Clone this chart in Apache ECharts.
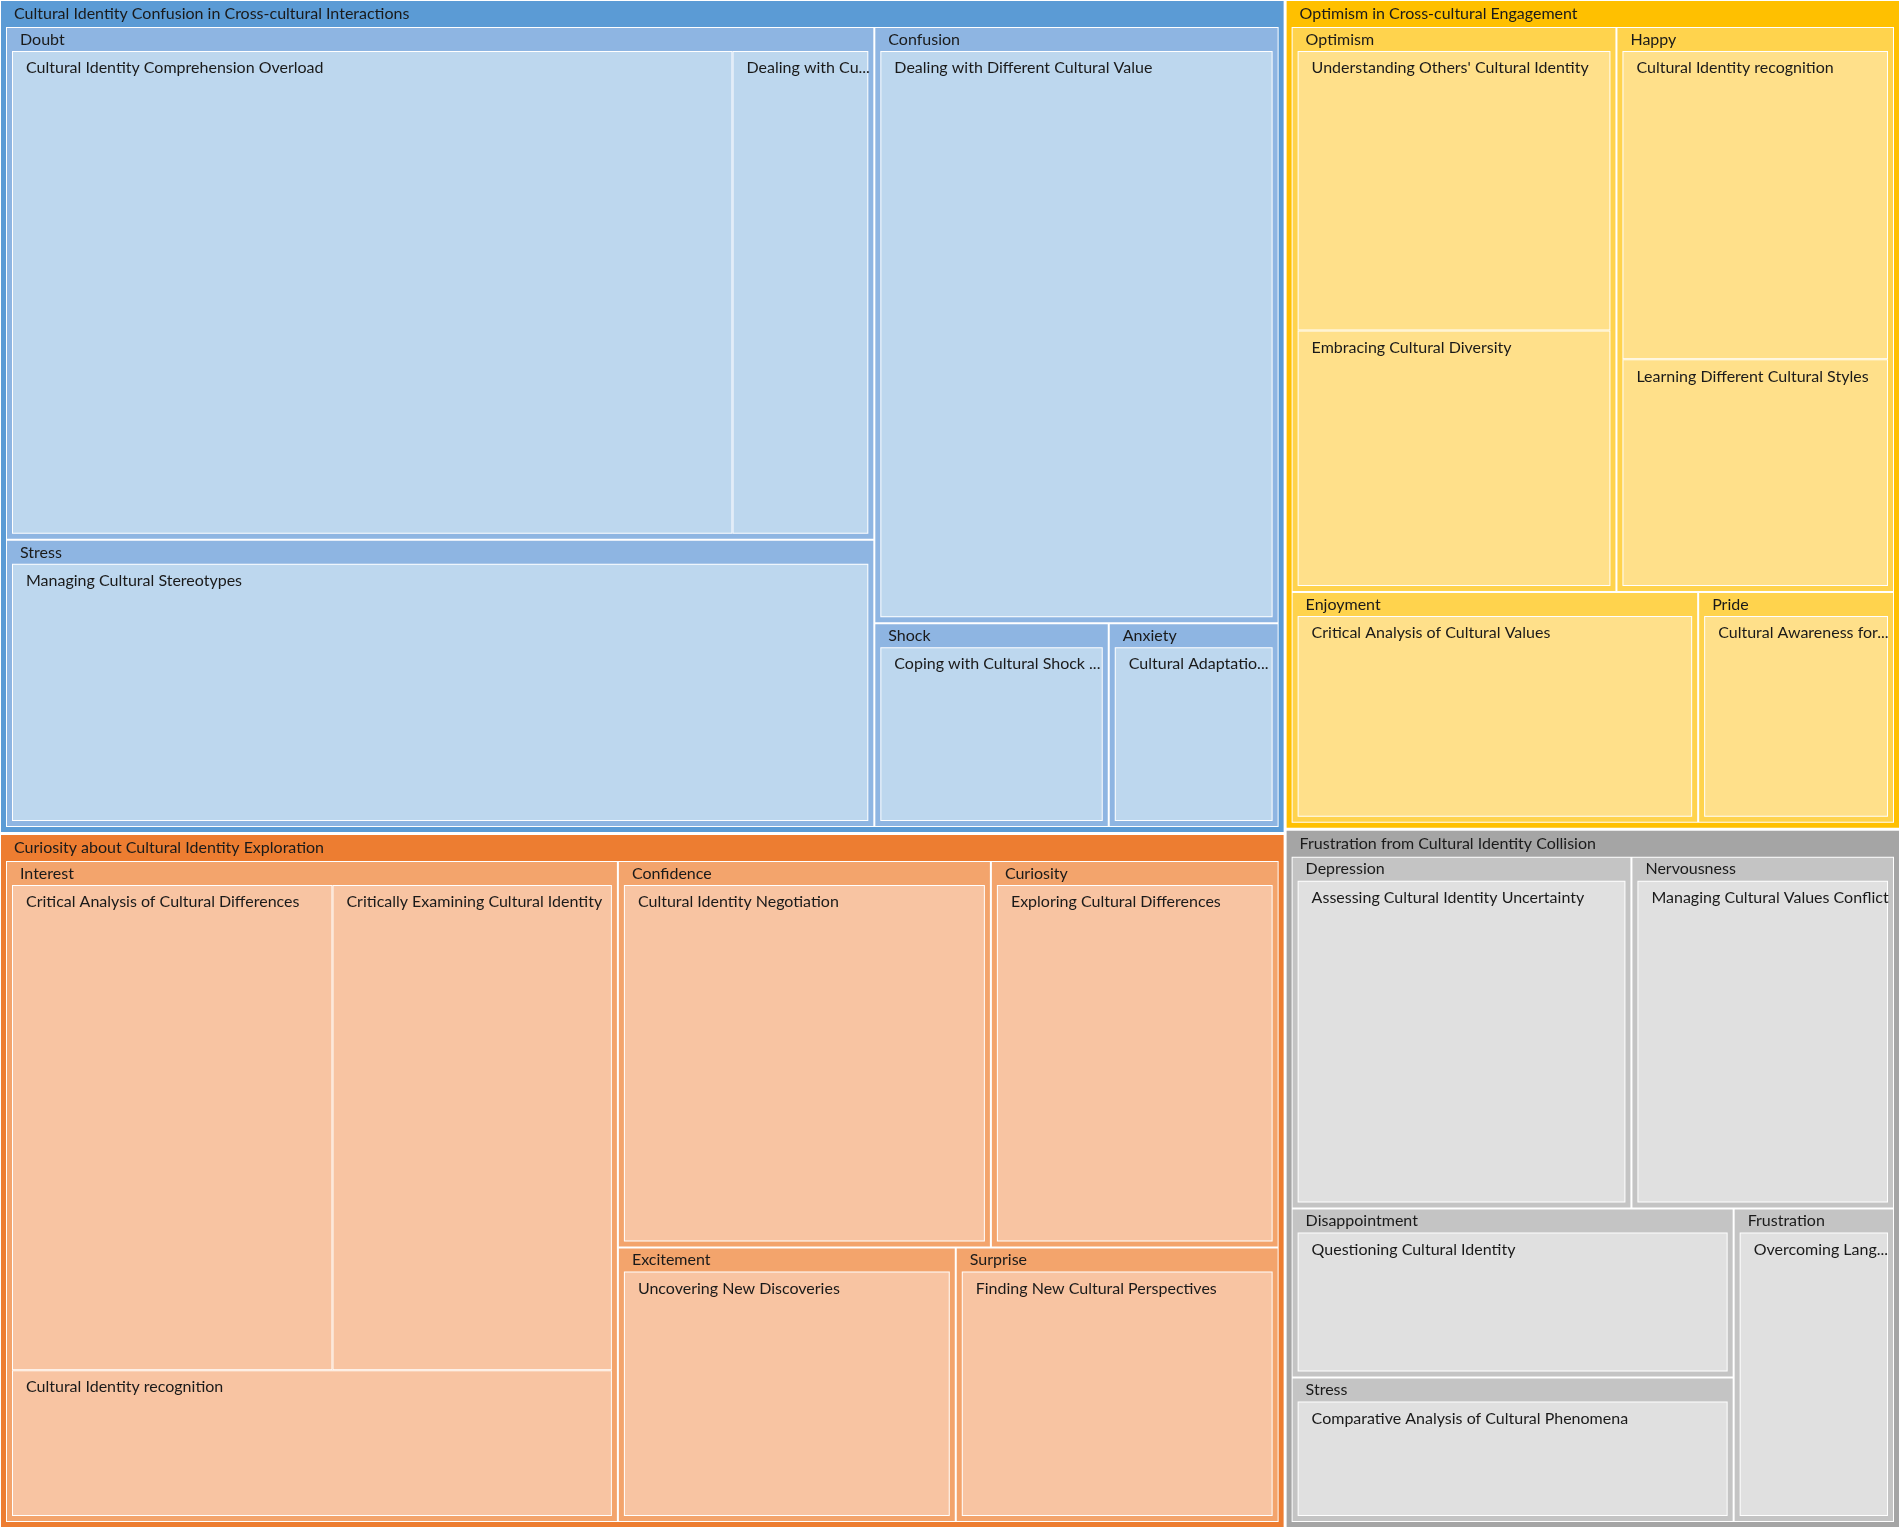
<!DOCTYPE html>
<html>
<head>
<meta charset="utf-8">
<title>Cultural identity treemap</title>
<script src="https://cdn.jsdelivr.net/npm/echarts@6.0.0/dist/echarts.min.js"></script>
<style>
  html, body { margin: 0; padding: 0; background: #fff; }
  #main { width: 1902px; height: 1532px; }
</style>
</head>
<body>
<div id="main"></div>
<script>
// top level groups
const groupNames = [
  'Cultural Identity Confusion in Cross-cultural Interactions',
  'Curiosity about Cultural Identity Exploration',
  'Optimism in Cross-cultural Engagement',
  'Frustration from Cultural Identity Collision'
];

const confusionSubs = ['Doubt', 'Stress', 'Confusion', 'Shock', 'Anxiety'];
const confusionLeaves = [
  ['Cultural Identity Comprehension Overload', 'Dealing with Cultural Conflicts'],
  ['Managing Cultural Stereotypes'],
  ['Dealing with Different Cultural Value'],
  ['Coping with Cultural Shock in Daily Life'],
  ['Cultural Adaptation Pressure']
];
const confusionValues = [[54.1, 10.2], [36.0], [34.8], [6.9], [5.0]];

const curiositySubs = ['Interest', 'Confidence', 'Curiosity', 'Excitement', 'Surprise'];
const curiosityLeaves = [
  ['Critical Analysis of Cultural Differences', 'Critically Examining Cultural Identity', 'Cultural Identity recognition'],
  ['Cultural Identity Negotiation'],
  ['Exploring Cultural Differences'],
  ['Uncovering New Discoveries'],
  ['Finding New Cultural Perspectives']
];
const curiosityValues = [[24.2, 21.1, 13.6], [21.0], [16.2], [13.5], [12.9]];

const optimismSubs = ['Optimism', 'Happy', 'Enjoyment', 'Pride'];
const optimismLeaves = [
  ["Understanding Others' Cultural Identity", 'Embracing Cultural Diversity'],
  ['Cultural Identity recognition', 'Learning Different Cultural Styles'],
  ['Critical Analysis of Cultural Values'],
  ['Cultural Awareness for Global Citizenship']
];
const optimismValues = [[14.0, 12.8], [13.2, 9.7], [13.7], [6.6]];

const frustrationSubs = ['Depression', 'Nervousness', 'Disappointment', 'Stress', 'Frustration'];
const frustrationLeaves = [
  ['Assessing Cultural Identity Uncertainty'],
  ['Managing Cultural Values Conflict'],
  ['Questioning Cultural Identity'],
  ['Comparative Analysis of Cultural Phenomena'],
  ['Overcoming Language Barriers']
];
const frustrationValues = [[17.6], [13.6], [11.0], [9.4], [7.4]];

// colours per group: outer / sub group / leaf
const groupColors = ['#5B9BD5', '#ED7D31', '#FFC000', '#A5A5A5'];
const subColors = ['#8EB5E2', '#F3A46C', '#FFD34D', '#C4C4C4'];
const leafColors = ['#BDD7EE', '#F8C4A2', '#FFE08A', '#E0E0E0'];

// a white, unlabelled wrapper inside each group gives the thin white lines between sub groups
function buildGroup(gi, subs, leaves, values) {
  return {
    name: groupNames[gi],
    itemStyle: { color: groupColors[gi], borderColor: groupColors[gi] },
    children: [{
      name: '',
      itemStyle: { color: subColors[gi], borderColor: '#fff' },
      children: subs.map((s, si) => ({
        name: s,
        itemStyle: { color: subColors[gi], borderColor: subColors[gi] },
        children: leaves[si].map((l, li) => ({
          name: l,
          value: values[si][li],
          itemStyle: { color: leafColors[gi], borderColor: '#fff' }
        }))
      }))
    }]
  };
}

const treeData = [
  buildGroup(0, confusionSubs, confusionLeaves, confusionValues),
  buildGroup(1, curiositySubs, curiosityLeaves, curiosityValues),
  buildGroup(2, optimismSubs, optimismLeaves, optimismValues),
  buildGroup(3, frustrationSubs, frustrationLeaves, frustrationValues)
];

const font = 'Lato, "Noto Sans", sans-serif';

let myChart = echarts.init(document.getElementById('main'));
myChart.setOption({
  animation: false,
  series: [
    {
      type: 'treemap',
      left: 1,
      top: 1,
      right: 3,
      bottom: 5,
      roam: false,
      nodeClick: false,
      breadcrumb: { show: false },
      data: treeData,
      label: {
        show: true,
        position: 'insideTopLeft',
        distance: 5,
        padding: [3, 0, 0, 8],
        color: '#1a1a1a',
        fontSize: 16,
        fontFamily: font
      },
      upperLabel: {
        show: true,
        padding: [0, 2, 0, 8],
        color: '#1a1a1a',
        fontSize: 16,
        fontFamily: font
      },
      levels: [
        {
          itemStyle: { borderWidth: 0, gapWidth: 3 },
          upperLabel: { show: false }
        },
        {
          itemStyle: { borderWidth: 5, gapWidth: 0 },
          upperLabel: { show: true, height: 26 }
        },
        {
          itemStyle: { borderWidth: 1, gapWidth: 2 },
          upperLabel: { show: false }
        },
        {
          itemStyle: { borderWidth: 5, gapWidth: 0 },
          upperLabel: { show: true, height: 23 }
        },
        {
          itemStyle: { borderWidth: 1, gapWidth: 0 }
        }
      ]
    }
  ]
});
</script>
</body>
</html>
